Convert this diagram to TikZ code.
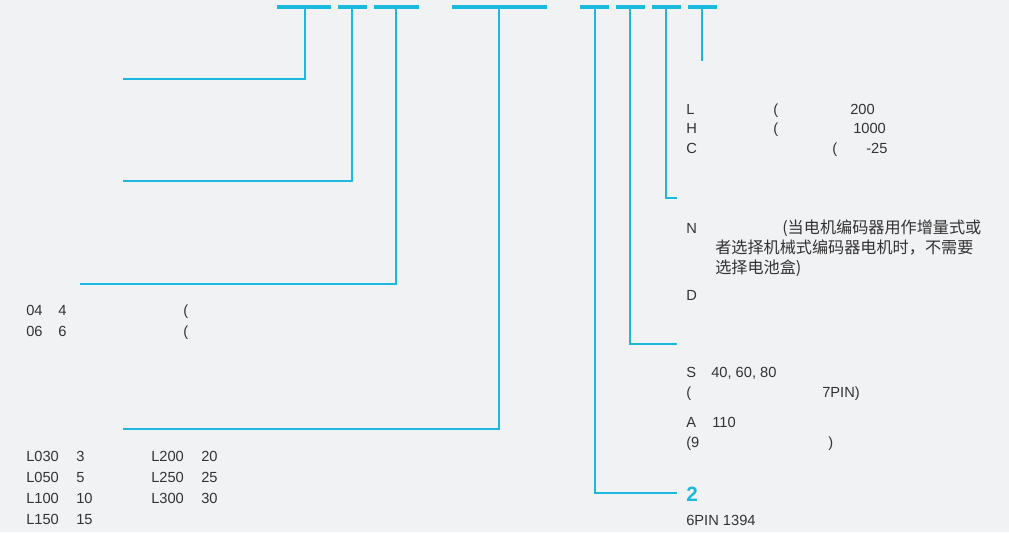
\documentclass[tikz,border=0pt]{standalone}
\usepackage{fontspec}
\setmainfont{Liberation Sans}
\newfontfamily\cjk{Noto Sans CJK SC}
\definecolor{bgc}{HTML}{F1F2F4}
\definecolor{cyanl}{HTML}{1BB9DD}
\definecolor{txtc}{HTML}{333333}
\begin{document}
\begin{tikzpicture}[x=0.75pt,y=-0.75pt,
  bar/.style={draw=cyanl,line width=2.4pt},
  lead/.style={draw=cyanl,line width=1.1pt},
  txt/.style={anchor=base west,inner sep=0pt,text=txtc,font=\fontsize{11}{13}\selectfont},
  cjktxt/.style={anchor=base west,inner sep=0pt,text=txtc,font=\cjk\fontsize{12.1}{14}\selectfont},
  big/.style={anchor=base west,inner sep=0pt,text=cyanl,font=\bfseries\fontsize{15.5}{18}\selectfont}]
\fill[bgc] (0,0) rectangle (1009,532);
\useasboundingbox (0,0) rectangle (1009,532);
% top bars
\coordinate (b1l) at (277,7); \coordinate (b1r) at (331,7);
\coordinate (b2l) at (338,7); \coordinate (b2r) at (367,7);
\coordinate (b3l) at (374,7); \coordinate (b3r) at (419,7);
\coordinate (b4l) at (452,7); \coordinate (b4r) at (547,7);
\coordinate (b5l) at (580,7); \coordinate (b5r) at (609,7);
\coordinate (b6l) at (616,7); \coordinate (b6r) at (645,7);
\coordinate (b7l) at (652,7); \coordinate (b7r) at (681,7);
\coordinate (b8l) at (688,7); \coordinate (b8r) at (717,7);
\foreach \i in {1,...,8} {\draw[bar] (b\i l) -- (b\i r);}
% stems and leaders
\coordinate (s1) at (305,7); \coordinate (c1) at (305,79); \coordinate (e1) at (123,79);
\coordinate (s2) at (352,7); \coordinate (c2) at (352,181); \coordinate (e2) at (123,181);
\coordinate (s3) at (396,7); \coordinate (c3) at (396,284); \coordinate (e3) at (80,284);
\coordinate (s4) at (499,7); \coordinate (c4) at (499,429); \coordinate (e4) at (123,429);
\coordinate (s5) at (595,7); \coordinate (c5) at (595,493); \coordinate (e5) at (677,493);
\coordinate (s6) at (630,7); \coordinate (c6) at (630,344); \coordinate (e6) at (677,344);
\coordinate (s7) at (666,7); \coordinate (c7) at (666,198); \coordinate (e7) at (677,198);
\coordinate (s8) at (702,7); \coordinate (e8) at (702,61);
\foreach \i in {1,...,7} {\draw[lead] (s\i) -- (c\i) -- (e\i);}
\draw[lead] (s8) -- (e8);
% right column, group L/H/C
\node[txt] (tL) at (686,114) {L};
\node[txt] (tLp) at (773,114) {(};
\node[txt] (tLv) at (850,114) {200};
\node[txt] (tH) at (686,133.5) {H};
\node[txt] (tHp) at (773,133.5) {(};
\node[txt] (tHv) at (853,133.5) {1000};
\node[txt] (tC) at (686,153) {C};
\node[txt] (tCp) at (832,153) {(};
\node[txt] (tCv) at (866,153) {-25};
% N / D
\node[txt] (tN) at (686,233) {N};
\node[cjktxt] (tN1) at (782,233) {(当电机编码器用作增量式或};
\node[cjktxt] (tN2) at (715,253) {者选择机械式编码器电机时，不需要};
\node[cjktxt] (tN3) at (715,273) {选择电池盒)};
\node[txt] (tD) at (686,300.5) {D};
% S / A
\node[txt] (tS) at (686,377) {S};
\node[txt] (tSv) at (711,377) {40, 60, 80};
\node[txt] (tSp) at (686,397.5) {(};
\node[txt] (tSq) at (822,397.5) {7PIN)};
\node[txt] (tA) at (686,427) {A};
\node[txt] (tAv) at (712,427) {110};
\node[txt] (tAp) at (686,447.5) {(9};
\node[txt] (tAq) at (828,447.5) {)};
% 2
\node[big] (t2) at (686,501.5) {2};
\node[txt] (t6) at (686,525) {6PIN 1394};
% left: 04/06
\node[txt] (t04) at (26,315) {04};
\node[txt] (t04v) at (58,315) {4};
\node[txt] (t04p) at (183,315) {(};
\node[txt] (t06) at (26,336) {06};
\node[txt] (t06v) at (58,336) {6};
\node[txt] (t06p) at (183,336) {(};
% left: lengths
\node[txt] (l1) at (26,461) {L030};
\node[txt] (l1v) at (76,461) {3};
\node[txt] (l5) at (151,461) {L200};
\node[txt] (l5v) at (201,461) {20};
\node[txt] (l2) at (26,482) {L050};
\node[txt] (l2v) at (76,482) {5};
\node[txt] (l6) at (151,482) {L250};
\node[txt] (l6v) at (201,482) {25};
\node[txt] (l3) at (26,503) {L100};
\node[txt] (l3v) at (76,503) {10};
\node[txt] (l7) at (151,503) {L300};
\node[txt] (l7v) at (201,503) {30};
\node[txt] (l4) at (26,524) {L150};
\node[txt] (l4v) at (76,524) {15};
\end{tikzpicture}
\end{document}
